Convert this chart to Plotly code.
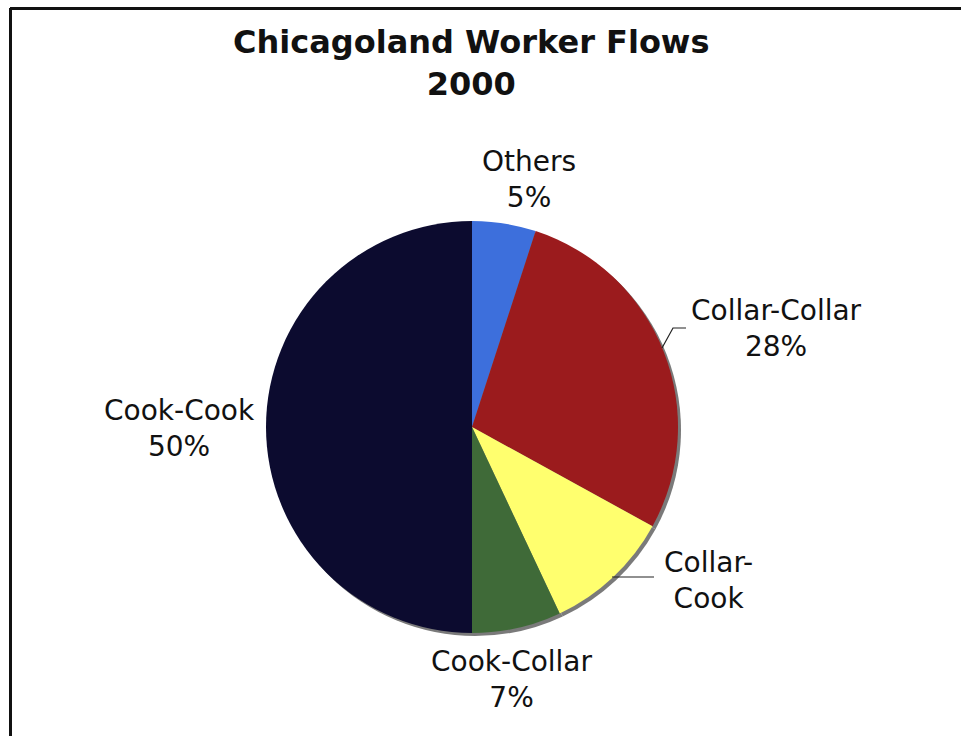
import plotly.graph_objects as go

# Commuter flows between Cook and the collar counties, 2000 (share of workers, %)
flows = ["Others", "Collar-Collar", "Collar-Cook", "Cook-Collar", "Cook-Cook"]
shares = [5, 28, 10, 7, 50]
show_share = [True, True, False, True, True]
slice_colors = ["#3d6fdc", "#9b1b1d", "#ffff6e", "#3f6a38", "#0c0b2f"]

W, H = 961, 736


def px(x):
    return x / W


def py(y):
    return 1 - y / H


# pie geometry in pixels
cx, cy, r = 472, 427, 206
shadow_dx, shadow_dy = 3, 3

fig = go.Figure()

# soft drop shadow under the pie
fig.add_trace(go.Pie(
    values=shares,
    labels=flows,
    sort=False,
    direction="clockwise",
    rotation=0,
    marker=dict(colors=["#7a7a7a"] * len(shares), line=dict(width=0)),
    textinfo="none",
    hoverinfo="skip",
    showlegend=False,
    domain=dict(x=[px(cx - r + shadow_dx), px(cx + r + shadow_dx)],
                y=[py(cy + r + shadow_dy), py(cy - r + shadow_dy)]),
))

fig.add_trace(go.Pie(
    values=shares,
    labels=flows,
    sort=False,
    direction="clockwise",
    rotation=0,
    marker=dict(colors=slice_colors, line=dict(width=0)),
    textinfo="none",
    showlegend=False,
    domain=dict(x=[px(cx - r), px(cx + r)], y=[py(cy + r), py(cy - r)]),
))

# slice label positions (pixel centres of each two-line block)
label_pos = {
    "Others": (529, 179.5),
    "Collar-Collar": (776, 328.5),
    "Collar-Cook": (708, 580.5),
    "Cook-Collar": (512, 679.5),
    "Cook-Cook": (179, 428.5),
}

annotations = []
for name, val, show in zip(flows, shares, show_share):
    if show:
        txt = f"{name}<br>{val}%"
    else:
        a, b = name.split("-", 1)
        txt = f"{a}-<br>{b}"
    x, y = label_pos[name]
    annotations.append(dict(
        x=px(x), y=py(y), xref="paper", yref="paper",
        text=txt, showarrow=False, xanchor="center", yanchor="middle",
        font=dict(family="DejaVu Sans", size=28, color="#111111"),
    ))

annotations.append(dict(
    x=px(471), y=py(63), xref="paper", yref="paper",
    text="<b>Chicagoland Worker Flows<br>2000</b>", showarrow=False,
    xanchor="center", yanchor="middle",
    font=dict(family="DejaVu Sans", size=32, color="#111111"),
))

shapes = [
    # frame: top and left edges
    dict(type="line", xref="paper", yref="paper",
         x0=px(10), y0=py(8.5), x1=1, y1=py(8.5),
         line=dict(color="#111111", width=3)),
    dict(type="line", xref="paper", yref="paper",
         x0=px(10.5), y0=py(8), x1=px(10.5), y1=0,
         line=dict(color="#111111", width=3)),
    # leader lines
    dict(type="path", xref="paper", yref="paper",
         path=f"M {px(662)},{py(348)} L {px(673)},{py(328)} L {px(686)},{py(328)}",
         line=dict(color="#222222", width=1.2)),
    dict(type="line", xref="paper", yref="paper",
         x0=px(612), y0=py(577), x1=px(654), y1=py(577),
         line=dict(color="#222222", width=1.2)),
]

fig.update_layout(
    width=W, height=H,
    margin=dict(l=0, r=0, t=0, b=0),
    paper_bgcolor="white",
    plot_bgcolor="white",
    annotations=annotations,
    shapes=shapes,
)

fig.write_html("out.html")
